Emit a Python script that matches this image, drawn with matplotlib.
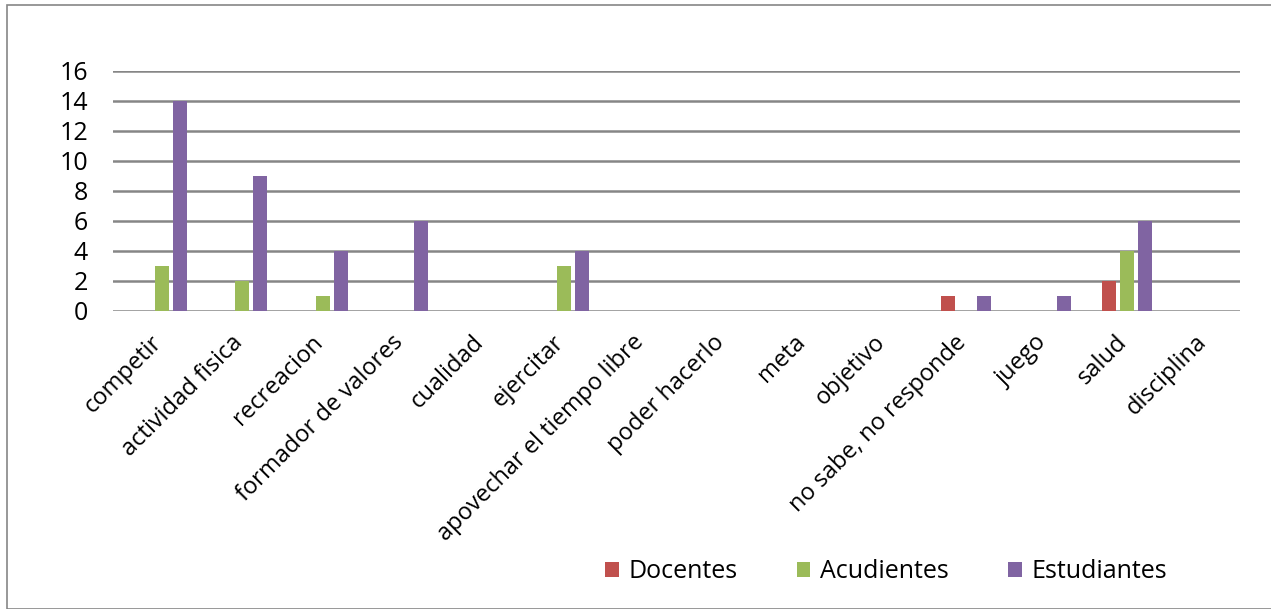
import matplotlib.pyplot as plt
import matplotlib.transforms as mtransforms
import numpy as np
from matplotlib.patches import Rectangle

plt.rcParams['font.family'] = ['Open Sans', 'DejaVu Sans']

categorias = ['competir', 'actividad fisica', 'recreacion', 'formador de valores',
              'cualidad', 'ejercitar', 'apovechar el tiempo libre', 'poder hacerlo',
              'meta', 'objetivo', 'no sabe, no responde', 'juego', 'salud', 'disciplina']
docentes = [0, 0, 0, 0, 0, 0, 0, 0, 0, 0, 1, 0, 2, 0]
acudientes = [3, 2, 1, 0, 0, 3, 0, 0, 0, 0, 0, 0, 4, 0]
estudiantes = [14, 9, 4, 6, 0, 4, 0, 0, 0, 0, 1, 1, 6, 0]

series = [('Docentes', docentes, '#C0504D'),
          ('Acudientes', acudientes, '#9BBB59'),
          ('Estudiantes', estudiantes, '#8064A2')]

fig = plt.figure(figsize=(12.71, 6.09), dpi=100)
ax = fig.add_axes([113 / 1271, 1 - 311 / 609, (1240 - 113) / 1271, (311 - 71) / 609])

x = np.arange(len(categorias))
ancho = 0.174
paso = 0.224
for i, (nombre, vals, color) in enumerate(series):
    ax.bar(x + (i - 1) * paso, vals, ancho, color=color, label=nombre, zorder=3)

ax.set_xlim(-0.61, 13.41)
ax.set_ylim(0, 16)
ax.set_yticks(range(0, 17, 2))
ax.yaxis.grid(True, color='#868686', linewidth=1.8, zorder=0)
for s in ax.spines.values():
    s.set_visible(False)
ax.tick_params(axis='y', length=0, labelsize=18, pad=18)
ax.set_xticks(x)
ax.set_xticklabels(categorias, rotation=45, ha='right', rotation_mode='anchor')
ax.tick_params(axis='x', length=0, labelsize=17, pad=14)
# mover las etiquetas un poco a la izquierda
desplaz = mtransforms.ScaledTranslation(-0.12, 0, fig.dpi_scale_trans)
for lab in ax.get_xticklabels():
    lab.set_transform(lab.get_transform() + desplaz)

fig.legend(loc='center', bbox_to_anchor=(886 / 1271, 1 - 572 / 609), ncol=3,
           frameon=False, fontsize=18, handlelength=0.55, handleheight=0.55,
           handletextpad=0.4, columnspacing=2.35)

fig.patches.append(Rectangle((7 / 1271, 0), 1, 1 - 5 / 609, transform=fig.transFigure,
                             fill=False, edgecolor='#868686', linewidth=1.2))

plt.savefig('out.png', dpi=100)
